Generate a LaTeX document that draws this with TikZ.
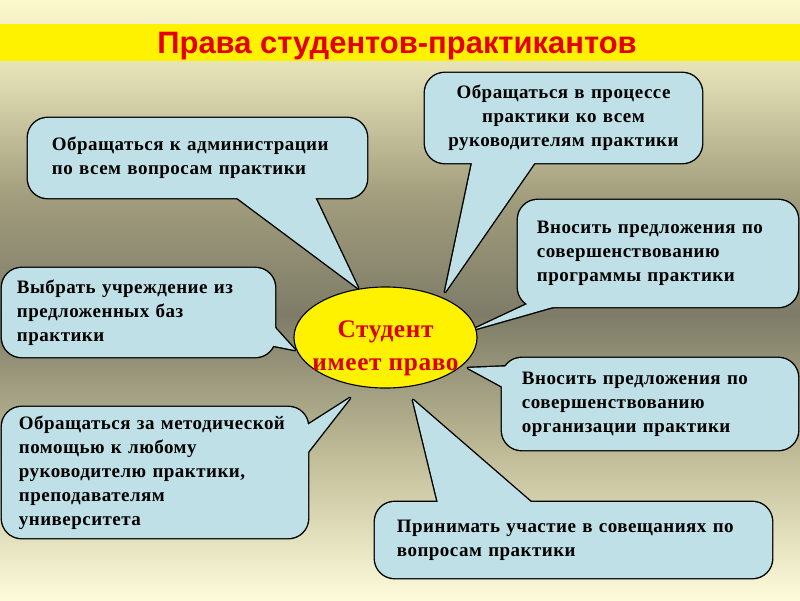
\documentclass[tikz,border=0pt]{standalone}
\usepackage{fontspec}
\usepackage{xcolor}
\usepackage{tikz}
\usetikzlibrary{shapes.geometric, calc}
\setmainfont{Liberation Serif}[LetterSpace=2.5]
\newfontfamily\titlefont{Liberation Sans}
\definecolor{titlered}{RGB}{228,0,0}
\definecolor{hubred}{RGB}{220,0,0}
\definecolor{callblue}{RGB}{190,224,230}
\definecolor{bgtop}{RGB}{252,249,205}
\definecolor{bgupper}{RGB}{228,224,182}
\definecolor{bghigh}{RGB}{160,156,124}
\definecolor{bgmid}{RGB}{126,124,104}
\definecolor{bglow}{RGB}{190,186,150}
\definecolor{bgbot}{RGB}{253,251,218}
\pgfdeclareverticalshading{slidebg}{100bp}{color(0bp)=(bgbot); color(25bp)=(bgbot); color(37.5bp)=(bglow); color(48.75bp)=(bgmid); color(58.33bp)=(bghigh); color(69.17bp)=(bgupper); color(75bp)=(bgtop); color(100bp)=(bgtop)}
\pgfdeclarelayer{back}
\pgfdeclarelayer{tails}
\pgfsetlayers{back,tails,main}
\tikzset{
  callout/.style={fill=callblue, preaction={draw=black, line width=2pt}, rounded corners=14pt,
    inner sep=0pt, align=left, font=\bfseries\fontsize{13.5}{17}\selectfont},
  tailline/.style={draw=black, line width=2pt, line join=round},
  tailfill/.style={fill=callblue},
  hub/.style={ellipse, draw=black, line width=0.8pt, fill=yellow, minimum width=4.575cm, minimum height=2.525cm},
  hubtext/.style={align=center, text=hubred, font=\bfseries\fontsize{18}{23.5}\selectfont},
  titletext/.style={anchor=base, text=titlered, font=\titlefont\bfseries\fontsize{22}{26}\selectfont},
}

\begin{document}
\begin{tikzpicture}[x=0.025cm, y=-0.025cm]
        \useasboundingbox (0,0) rectangle (800,600);

        % Fond et bande du titre
        \begin{pgfonlayer}{back}
        \shade[shading=slidebg] (0,0) rectangle (800,600);
        \fill[yellow] (0,24) rectangle (800,61);
        \end{pgfonlayer}
        \node[titletext] (title) at (397,53) {Права студентов-практикантов};

        % Bulles
        \node[callout, minimum width=8.475cm, text width=7.275cm, minimum height=2cm] (admin) at (197.5,158)
            {Обращаться к администрации\\по всем вопросам практики};
        \node[callout, align=center, minimum width=6.925cm, text width=6.125cm, minimum height=2.25cm] (proc) at (563.5,118)
            {Обращаться в процессе\\практики ко всем\\руководителям практики};
        \node[callout, minimum width=7cm, text width=6.05cm, minimum height=2.675cm] (prog) at (658,253.5)
            {Вносить предложения по\\совершенствованию\\программы практики};
        \node[callout, minimum width=6.825cm, text width=6.075cm, minimum height=2.225cm] (inst) at (138.5,312.5)
            {Выбрать учреждение из\\предложенных баз\\практики};
        \node[callout, minimum width=7.65cm, text width=6.8cm, minimum height=3.275cm] (metod) at (155,472.5)
            {Обращаться за методической\\помощью к любому\\руководителю практики,\\преподавателям\\университета};
        \node[callout, minimum width=7.4cm, text width=6.4cm, minimum height=2.3cm] (org) at (650,404)
            {Вносить предложения по\\совершенствованию\\организации практики};
        \node[callout, minimum width=9.925cm, text width=8.825cm, minimum height=1.9cm] (meet) at (573.5,540)
            {Принимать участие в совещаниях по\\вопросам практики};

        % Pointes des bulles
        \coordinate (tipadmin) at (358,288);
        \coordinate (tipproc) at (445,292);
        \coordinate (tipprog) at (472,330);
        \coordinate (tipinst) at (295,350);
        \coordinate (tipmetod) at (350,398);
        \coordinate (tiporg) at (468,368);
        \coordinate (tipmeet) at (413,400);

        \begin{pgfonlayer}{tails}
        \foreach \nd/\ax/\ay/\bx/\by/\tip in {admin.south west/202/-6/285/-6/tipadmin,
            proc.south west/49/-8/115/-8/tipproc, prog.south west/22/-9/55/-6/tipprog,
            inst.south east/-9/-39/-9/-13/tipinst, metod.north east/-8/23/-8/55/tipmetod,
            org.north west/23/8/10/34/tiporg, meet.north west/65/8/165/8/tipmeet}
            \draw[tailline] ($(\nd)+(\ax,\ay)$) -- (\tip) -- ($(\nd)+(\bx,\by)$) -- cycle;
        \end{pgfonlayer}
        \foreach \nd/\ax/\ay/\bx/\by/\tip in {admin.south west/202/-6/285/-6/tipadmin,
            proc.south west/49/-8/115/-8/tipproc, prog.south west/22/-9/55/-6/tipprog,
            inst.south east/-9/-39/-9/-13/tipinst, metod.north east/-8/23/-8/55/tipmetod,
            org.north west/23/8/10/34/tiporg, meet.north west/65/8/165/8/tipmeet}
            \fill[tailfill] ($(\nd)+(\ax,\ay)$) -- (\tip) -- ($(\nd)+(\bx,\by)$) -- cycle;

        % Centre
        \node[hub] (stud) at (385.5,337.5) {};
        \node[hubtext] (studtext) at (385.5,348) {Студент\\имеет право};
\end{tikzpicture}
\end{document}
